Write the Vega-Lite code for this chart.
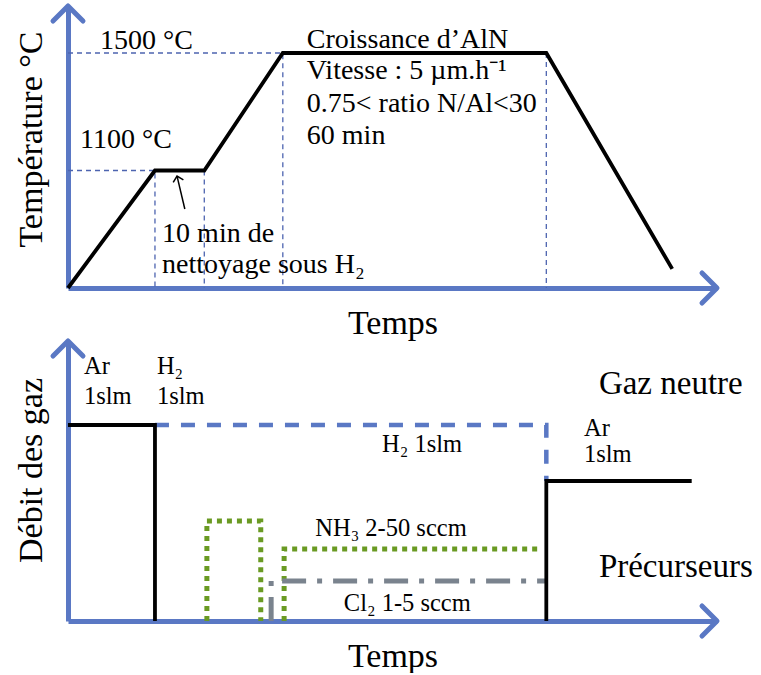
{
  "$schema": "https://vega.github.io/schema/vega-lite/v6.json",
  "background": "white",
  "padding": {"left": 14, "top": 3, "right": 0, "bottom": 0},
  "spacing": 53,
  "bounds": "flush",
  "config": {
    "view": {"stroke": null},
    "font": "Liberation Serif",
    "axis": {
      "labels": false,
      "ticks": false,
      "grid": false,
      "domainColor": "#5a78c4",
      "domainWidth": 5,
      "titleFont": "Liberation Serif",
      "titleFontSize": 34,
      "titleFontWeight": "normal",
      "titleColor": "black",
      "titlePadding": 18
    }
  },
  "datasets": {
    "profil": [
      {"i": 0, "t": 0, "T": 700},
      {"i": 1, "t": 13.4, "T": 1100},
      {"i": 2, "t": 21.0, "T": 1100},
      {"i": 3, "t": 33.1, "T": 1500},
      {"i": 4, "t": 73.7, "T": 1500},
      {"i": 5, "t": 93.1, "T": 765}
    ],
    "reperes": [
      {"s": "g1", "i": 0, "t": 0, "T": 1500},
      {"s": "g1", "i": 1, "t": 33.1, "T": 1500},
      {"s": "g1", "i": 2, "t": 33.1, "T": 700},
      {"s": "g2", "i": 0, "t": 0, "T": 1100},
      {"s": "g2", "i": 1, "t": 13.4, "T": 1100},
      {"s": "g2", "i": 2, "t": 13.4, "T": 700},
      {"s": "g3", "i": 0, "t": 21.0, "T": 1100},
      {"s": "g3", "i": 1, "t": 21.0, "T": 700},
      {"s": "g4", "i": 0, "t": 73.7, "T": 1500},
      {"s": "g4", "i": 1, "t": 73.7, "T": 700}
    ],
    "fleche": [
      {"i": 0, "t": 18.0, "T": 969},
      {"i": 1, "t": 16.8, "T": 1081}
    ],
    "pointe": [{"t": 16.8, "T": 1081}],
    "textes_haut": [
      {"t": 4.93, "T": 1514, "label": "1500 °C"},
      {"t": 1.85, "T": 1177, "label": "1100 °C"},
      {"t": 36.8, "T": 1516, "label": "Croissance  d’AlN"},
      {"t": 36.8, "T": 1411, "label": "Vitesse : 5 µm.h⁻¹"},
      {"t": 36.8, "T": 1300, "label": "0.75< ratio N/Al<30"},
      {"t": 36.8, "T": 1190, "label": "60 min"},
      {"t": 14.5, "T": 855, "label": "10 min de"},
      {"t": 14.5, "T": 750, "label": "nettoyage sous H₂"}
    ],
    "argon": [
      {"s": "Ar1", "i": 0, "t": 0, "f": 70},
      {"s": "Ar1", "i": 1, "t": 13.4, "f": 70},
      {"s": "Ar1", "i": 2, "t": 13.4, "f": 0},
      {"s": "Ar2", "i": 0, "t": 73.7, "f": 0},
      {"s": "Ar2", "i": 1, "t": 73.7, "f": 50},
      {"s": "Ar2", "i": 2, "t": 96.1, "f": 50}
    ],
    "hydrogene": [
      {"i": 0, "t": 13.4, "f": 70},
      {"i": 1, "t": 73.7, "f": 70},
      {"i": 2, "t": 73.7, "f": 50}
    ],
    "ammoniac": [
      {"s": "a", "i": 0, "t": 21.4, "f": 0},
      {"s": "a", "i": 1, "t": 21.4, "f": 35.7},
      {"s": "a", "i": 2, "t": 29.7, "f": 35.7},
      {"s": "a", "i": 3, "t": 29.7, "f": 0},
      {"s": "b", "i": 0, "t": 33.3, "f": 0},
      {"s": "b", "i": 1, "t": 33.3, "f": 25.7},
      {"s": "b", "i": 2, "t": 72.8, "f": 25.7}
    ],
    "chlore": [
      {"i": 0, "t": 31.3, "f": 0},
      {"i": 1, "t": 31.3, "f": 14.3},
      {"i": 2, "t": 73.7, "f": 14.3}
    ],
    "textes_bas": [
      {"t": 2.47, "f": 88.2, "label": "Ar"},
      {"t": 2.47, "f": 77.5, "label": "1slm"},
      {"t": 13.7, "f": 88.2, "label": "H₂"},
      {"t": 13.7, "f": 77.5, "label": "1slm"},
      {"t": 79.5, "f": 66.1, "label": "Ar"},
      {"t": 79.5, "f": 56.8, "label": "1slm"},
      {"t": 48.4, "f": 60.4, "label": "H₂ 1slm"},
      {"t": 38.1, "f": 30.5, "label": "NH₃ 2-50 sccm"},
      {"t": 42.5, "f": 3.6, "label": "Cl₂ 1-5 sccm"}
    ],
    "titres_bas": [
      {"t": 81.8, "f": 81.1, "label": "Gaz neutre"},
      {"t": 81.8, "f": 15.7, "label": "Précurseurs"}
    ]
  },
  "vconcat": [
    {
      "width": 649,
      "height": 282,
      "encoding": {
        "x": {"field": "t", "type": "quantitative", "scale": {"domain": [0, 100]}, "axis": {"title": "Temps"}},
        "y": {"field": "T", "type": "quantitative", "scale": {"domain": [700, 1660]}, "axis": {"title": "Température °C", "titleY": 133, "titlePadding": 20}}
      },
      "layer": [
        {"data": {"name": "reperes"}, "mark": {"type": "line", "color": "#4d64b0", "strokeWidth": 1.3, "strokeDash": [5, 4]}, "encoding": {"detail": {"field": "s"}, "order": {"field": "i"}}},
        {"data": {"name": "profil"}, "mark": {"type": "line", "color": "black", "strokeWidth": 3.8}, "encoding": {"order": {"field": "i"}}},
        {"data": {"name": "fleche"}, "mark": {"type": "line", "color": "black", "strokeWidth": 1.5}, "encoding": {"order": {"field": "i"}}},
        {"data": {"name": "pointe"}, "mark": {"type": "point", "shape": "M-1,1L0,0L1,1", "size": 110, "filled": false, "stroke": "black", "strokeWidth": 1.5, "angle": -14, "opacity": 1}},
        {"data": {"values": [{"t": 0, "T": 1660}]}, "mark": {"type": "point", "shape": "M-1,1L0,0L1,1", "size": 900, "filled": false, "stroke": "#5a78c4", "strokeWidth": 5, "strokeCap": "round", "strokeJoin": "round", "opacity": 1}},
        {"data": {"values": [{"t": 100, "T": 700}]}, "mark": {"type": "point", "shape": "M-1,-1L0,0L-1,1", "size": 900, "filled": false, "stroke": "#5a78c4", "strokeWidth": 5, "strokeCap": "round", "strokeJoin": "round", "opacity": 1}},
        {"data": {"name": "textes_haut"}, "mark": {"type": "text", "align": "left", "baseline": "alphabetic", "font": "Liberation Serif", "fontSize": 28, "color": "black"}, "encoding": {"text": {"field": "label"}}}
      ]
    },
    {
      "width": 649,
      "height": 280,
      "encoding": {
        "x": {"field": "t", "type": "quantitative", "scale": {"domain": [0, 100]}, "axis": {"title": "Temps"}},
        "y": {"field": "f", "type": "quantitative", "scale": {"domain": [0, 100]}, "axis": {"title": "Débit des gaz", "titleY": 129, "titlePadding": 20}}
      },
      "layer": [
        {"data": {"name": "hydrogene"}, "mark": {"type": "line", "color": "#5a78c4", "strokeWidth": 4.5, "strokeDash": [14, 12]}, "encoding": {"order": {"field": "i"}}},
        {"data": {"name": "ammoniac"}, "mark": {"type": "line", "color": "#6a9a23", "strokeWidth": 5, "strokeDash": [5, 5]}, "encoding": {"detail": {"field": "s"}, "order": {"field": "i"}}},
        {"data": {"name": "chlore"}, "mark": {"type": "line", "color": "#7a838e", "strokeWidth": 5, "strokeDash": [24, 11, 5, 11]}, "encoding": {"order": {"field": "i"}}},
        {"data": {"name": "argon"}, "mark": {"type": "line", "color": "black", "strokeWidth": 3.8}, "encoding": {"detail": {"field": "s"}, "order": {"field": "i"}}},
        {"data": {"values": [{"t": 0, "f": 100}]}, "mark": {"type": "point", "shape": "M-1,1L0,0L1,1", "size": 900, "filled": false, "stroke": "#5a78c4", "strokeWidth": 5, "strokeCap": "round", "strokeJoin": "round", "opacity": 1}},
        {"data": {"values": [{"t": 100, "f": 0}]}, "mark": {"type": "point", "shape": "M-1,-1L0,0L-1,1", "size": 900, "filled": false, "stroke": "#5a78c4", "strokeWidth": 5, "strokeCap": "round", "strokeJoin": "round", "opacity": 1}},
        {"data": {"name": "textes_bas"}, "mark": {"type": "text", "align": "left", "baseline": "alphabetic", "font": "Liberation Serif", "fontSize": 24.5, "color": "black"}, "encoding": {"text": {"field": "label"}}},
        {"data": {"name": "titres_bas"}, "mark": {"type": "text", "align": "left", "baseline": "alphabetic", "font": "Liberation Serif", "fontSize": 33, "color": "black"}, "encoding": {"text": {"field": "label"}}}
      ]
    }
  ]
}
